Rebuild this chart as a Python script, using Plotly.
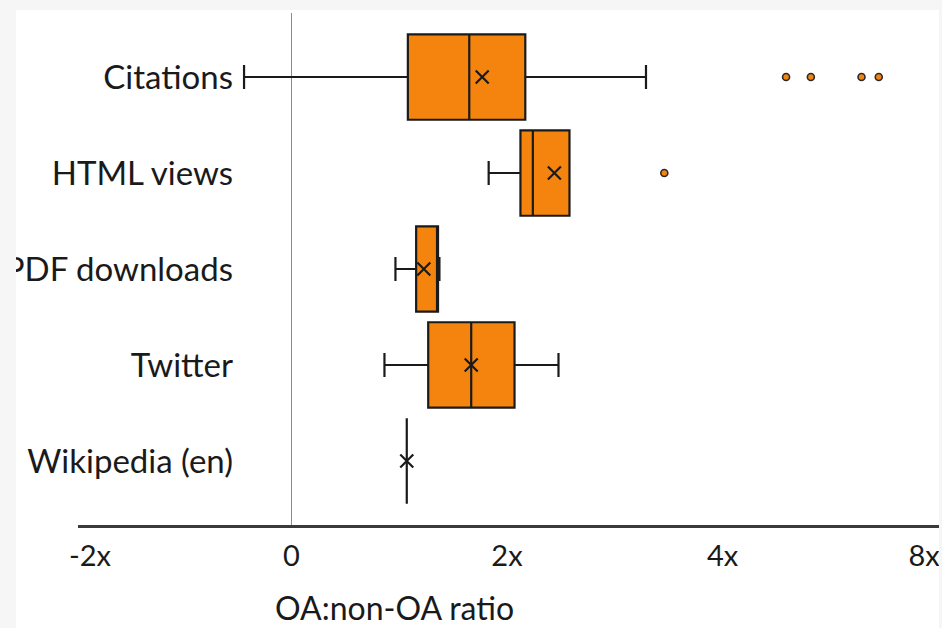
import plotly.graph_objects as go

# ---- data ----
categories = ["Citations", "HTML views", "PDF downloads", "Twitter", "Wikipedia (en)"]
lower_whisker = [-0.44, 1.83, 0.965, 0.863, 1.07]
q1_vals = [1.08, 2.125, 1.157, 1.269, 1.07]
median_vals = [1.65, 2.24, 1.355, 1.668, 1.07]
q3_vals = [2.17, 2.58, 1.36, 2.07, 1.07]
upper_whisker = [3.29, 2.58, 1.373, 2.478, 1.07]
mean_vals = [1.77, 2.44, 1.228, 1.668, 1.07]

outlier_cats = ["Citations", "Citations", "Citations", "Citations", "HTML views"]
outlier_vals = [4.59, 4.82, 5.29, 5.45, 3.46]

tick_vals = [-1.87, 0, 2, 4, 5.87]
tick_text = ["-2x", "0", "2x", "4x", "8x"]
x_title = "OA:non-OA ratio"

# ---- styling ----
ORANGE = "#F5840F"
INK = "#1a1a1a"
FONT = "Lato"

W, H = 942, 628
ML, MR, MT, MB = 78, 0, 13, 103
PW = W - ML - MR
PH = H - MT - MB

fig = go.Figure()

fig.add_trace(go.Box(
    orientation="h",
    y=categories,
    q1=q1_vals,
    median=median_vals,
    q3=q3_vals,
    lowerfence=lower_whisker,
    upperfence=upper_whisker,
    boxpoints=False,
    width=0.89,
    whiskerwidth=0.28,
    fillcolor=ORANGE,
    line=dict(color=INK, width=2.2),
    hoverinfo="skip",
    showlegend=False,
))

fig.add_trace(go.Scatter(
    x=mean_vals, y=categories, mode="markers",
    marker=dict(symbol="x-thin", size=13, line=dict(width=2.2, color=INK), color=INK),
    showlegend=False, hoverinfo="skip",
))

fig.add_trace(go.Scatter(
    x=outlier_vals, y=outlier_cats, mode="markers",
    marker=dict(symbol="circle", size=7, color=ORANGE, line=dict(width=1.6, color="#2a2a2a")),
    showlegend=False, hoverinfo="skip",
))

# light grey frame of the screenshot (clips text at edges like the reference)
GREY = "#f6f6f6"
def px_x(p):
    return (p - ML) / PW
def px_y(p):
    return (H - MB - p) / PH

shapes = [
    dict(type="rect", xref="paper", yref="paper", x0=px_x(0), x1=px_x(16), y0=px_y(H), y1=px_y(0),
         fillcolor=GREY, line=dict(width=0), layer="above"),
    dict(type="rect", xref="paper", yref="paper", x0=px_x(0), x1=px_x(W), y0=px_y(10), y1=px_y(0),
         fillcolor=GREY, line=dict(width=0), layer="above"),
    dict(type="rect", xref="paper", yref="paper", x0=px_x(939), x1=px_x(W), y0=px_y(H), y1=px_y(0),
         fillcolor=GREY, line=dict(width=0), layer="above"),
]

fig.update_layout(
    width=W, height=H,
    margin=dict(l=ML, r=MR, t=MT, b=MB, pad=0),
    paper_bgcolor="white",
    plot_bgcolor="white",
    font=dict(family=FONT, size=31, color=INK),
    showlegend=False,
    shapes=shapes,
    xaxis=dict(
        range=[-1.981, 6.037],
        tickvals=tick_vals, ticktext=tick_text,
        showgrid=False,
        zeroline=True, zerolinecolor="#8a8a8a", zerolinewidth=1.5,
        showline=True, linecolor="#3a3a3a", linewidth=2.5,
        ticks="", ticklabelstandoff=4,
        ticklabeloverflow="allow",
        tickfont=dict(family=FONT, size=29, color=INK),
        fixedrange=True,
    ),
    yaxis=dict(
        type="category",
        categoryorder="array", categoryarray=categories,
        range=[4.667, -0.667],
        anchor="free", position=px_x(233),
        showline=False, showgrid=False, zeroline=False,
        ticks="", ticklabelstandoff=0,
        ticklabeloverflow="allow",
        tickfont=dict(family=FONT, size=33, color=INK),
        fixedrange=True,
    ),
    annotations=[dict(
        text=x_title, xref="paper", yref="paper",
        x=px_x(394), y=px_y(607), xanchor="center", yanchor="middle",
        showarrow=False, font=dict(family=FONT, size=32, color=INK),
    )],
)

post = (
    "document.documentElement.style.overflow='hidden';"
    "document.body.style.margin='0';"
    "document.body.style.overflow='hidden';"
)

fig.write_html(
    "out.html",
    config={"displayModeBar": False, "staticPlot": True},
    post_script=post,
)
